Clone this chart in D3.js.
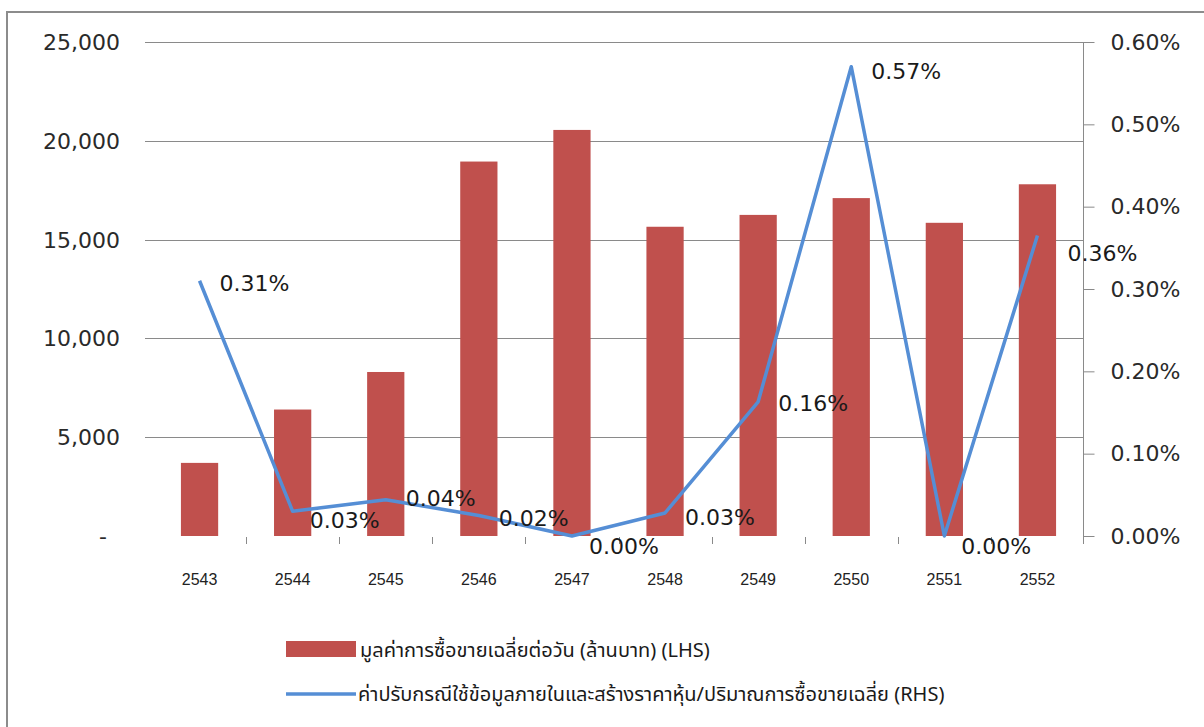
<!DOCTYPE html>
<html>
<head>
<meta charset="utf-8">
<script src="https://cdn.jsdelivr.net/npm/d3@7"></script>
<style>
  body { margin: 0; background: #fff; }
  svg { display: block; }
</style>
</head>
<body>
<div id="chart"></div>
<script>
// data
var years = ["2543", "2544", "2545", "2546", "2547", "2548", "2549", "2550", "2551", "2552"];
var tradeValue = [3700, 6400, 8300, 18950, 20550, 15650, 16250, 17100, 15850, 17800];
var fineRatio = [0.0031, 0.0003, 0.00044, 0.00025, 0.0, 0.00028, 0.00163, 0.0057, 0.0, 0.00365];
var fineLabels = ["0.31%", "0.03%", "0.04%", "0.02%", "0.00%", "0.03%", "0.16%", "0.57%", "0.00%", "0.36%"];
var leftTicks = [0, 5000, 10000, 15000, 20000, 25000];
var rightTicks = [0, 0.001, 0.002, 0.003, 0.004, 0.005, 0.006];
var legendNames = ["มูลค่าการซื้อขายเฉลี่ยต่อวัน (ล้านบาท) (LHS)",
  "ค่าปรับกรณีใช้ข้อมูลภายในและสร้างราคาหุ้น/ปริมาณการซื้อขายเฉลี่ย (RHS)"];

// small label nudges (Excel moved a few labels to avoid the line)
var labelDx = [0, -3, 0, 0, -3, 0, 0, 0, -3, 10];
var labelDy = [2, 9, -2, 3, 10, 4, 1, 4, 10, 18];

var width = 1204, height = 727;
var pLeft = 153, pRight = 1084, pTop = 42, pBottom = 536;

var svg = d3.select("#chart").append("svg")
  .attr("width", width)
  .attr("height", height);

// outer frame
svg.append("rect")
  .attr("x", 7).attr("y", 12)
  .attr("width", 1220).attr("height", 740)
  .attr("fill", "none")
  .attr("stroke", "#8c8c8c")
  .attr("stroke-width", 2);

var x = d3.scaleBand().domain(years).range([pLeft, pRight]).paddingInner(0.6).paddingOuter(0.3);
var xc = d3.scaleBand().domain(years).range([pLeft, pRight]);
var y = d3.scaleLinear().domain([0, 25000]).range([pBottom, pTop]);
var y2 = d3.scaleLinear().domain([0, 0.006]).range([pBottom, pTop]);

var numFont = "DejaVu Sans, sans-serif";

// gridlines + left ticks (gray, run from 145)
svg.append("g")
  .selectAll("line")
  .data(leftTicks.filter(function (d) { return d > 0; }))
  .enter().append("line")
    .attr("x1", pLeft - 8).attr("x2", pRight)
    .attr("y1", function (d) { return Math.round(y(d)) + 0.5; })
    .attr("y2", function (d) { return Math.round(y(d)) + 0.5; })
    .attr("stroke", "#8a8a8a")
    .attr("stroke-width", 1);

// left labels
svg.append("g")
  .selectAll("text")
  .data(leftTicks)
  .enter().append("text")
    .attr("x", function (d) { return d === 0 ? 107 : 120; })
    .attr("y", function (d) { return y(d) + 8; })
    .attr("text-anchor", "end")
    .attr("font-family", numFont)
    .attr("font-size", "22px")
    .attr("fill", "#2a2a2a")
    .text(function (d) { return d === 0 ? "-" : d3.format(",")(d); });

// right axis
var rAxis = d3.axisRight(y2).tickValues(rightTicks).tickSize(11).tickFormat(d3.format(".2%"));
var rg = svg.append("g").attr("transform", "translate(" + (pRight - 0.5) + ",0)").call(rAxis);
rg.select(".domain").attr("stroke", "#8a8a8a").attr("d", "M0," + pTop + "V" + (pBottom + 8));
rg.selectAll(".tick line").attr("stroke", "#8a8a8a");
rg.selectAll(".tick text")
  .attr("x", 27)
  .attr("font-family", numFont)
  .attr("font-size", "22px")
  .attr("fill", "#2a2a2a");

// category boundary ticks
svg.append("g")
  .selectAll("line")
  .data(years.slice(1))
  .enter().append("line")
    .attr("x1", function (d) { return Math.round(xc(d)) + 0.5; })
    .attr("x2", function (d) { return Math.round(xc(d)) + 0.5; })
    .attr("y1", pBottom + 1).attr("y2", pBottom + 8)
    .attr("stroke", "#8a8a8a");

// category labels
svg.append("g")
  .selectAll("text")
  .data(years)
  .enter().append("text")
    .attr("x", function (d) { return xc(d) + xc.bandwidth() / 2; })
    .attr("y", 585)
    .attr("text-anchor", "middle")
    .attr("font-family", "Liberation Sans, Arial, sans-serif")
    .attr("font-size", "16px")
    .attr("fill", "#222")
    .text(function (d) { return d; });

// bars
svg.append("g")
  .selectAll("rect")
  .data(tradeValue)
  .enter().append("rect")
    .attr("x", function (d, i) { return x(years[i]); })
    .attr("y", function (d) { return y(d); })
    .attr("width", x.bandwidth())
    .attr("height", function (d) { return pBottom - y(d); })
    .attr("fill", "#c0504d");

// line
var line = d3.line()
  .x(function (d, i) { return xc(years[i]) + xc.bandwidth() / 2; })
  .y(function (d) { return y2(d); });

svg.append("path")
  .datum(fineRatio)
  .attr("d", line)
  .attr("fill", "none")
  .attr("stroke", "#558ed5")
  .attr("stroke-width", 3.5)
  .attr("stroke-linejoin", "round");

// data labels
svg.append("g")
  .selectAll("text")
  .data(fineRatio)
  .enter().append("text")
    .attr("x", function (d, i) { return xc(years[i]) + xc.bandwidth() / 2 + 20 + labelDx[i]; })
    .attr("y", function (d, i) { return y2(d) + labelDy[i] + 8; })
    .attr("font-family", numFont)
    .attr("font-size", "22px")
    .attr("fill", "#1a1a1a")
    .text(function (d, i) { return fineLabels[i]; });

// legend
var lg = svg.append("g");
lg.append("rect")
  .attr("x", 286).attr("y", 641)
  .attr("width", 70).attr("height", 16)
  .attr("fill", "#c0504d");
lg.append("line")
  .attr("x1", 286).attr("x2", 356)
  .attr("y1", 694).attr("y2", 694)
  .attr("stroke", "#558ed5")
  .attr("stroke-width", 3.5);
lg.selectAll("text")
  .data(legendNames)
  .enter().append("text")
    .attr("x", function (d, i) { return i === 0 ? 360 : 358; })
    .attr("y", function (d, i) { return i === 0 ? 657 : 701; })
    .attr("font-family", "Noto Sans Thai, Tahoma, DejaVu Sans, sans-serif")
    .attr("font-size", "20px")
    .attr("fill", "#1a1a1a")
    .text(function (d) { return d; });
</script>
</body>
</html>
